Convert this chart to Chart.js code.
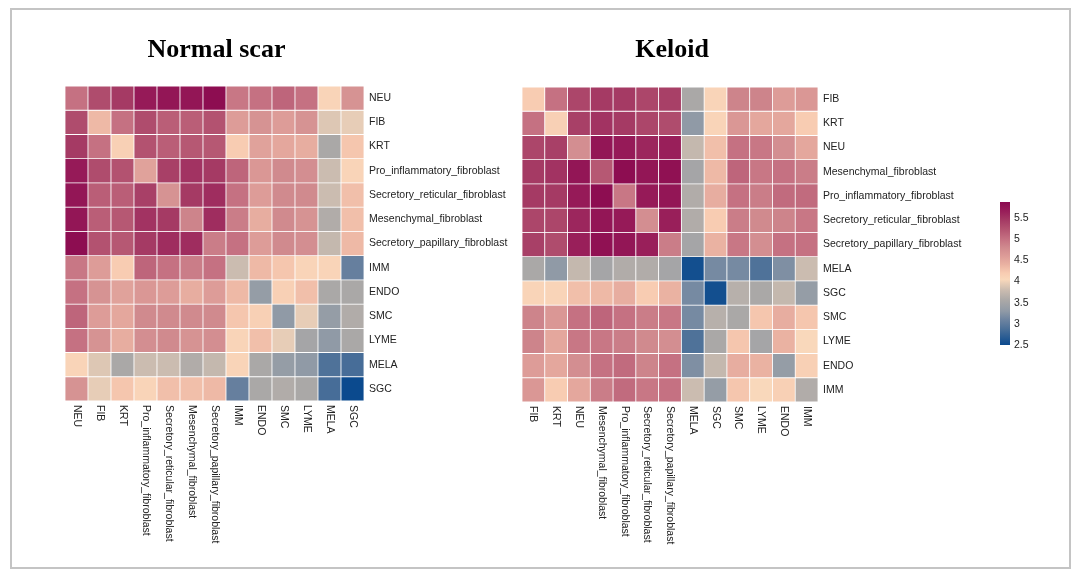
<!DOCTYPE html>
<html>
<head>
<meta charset="utf-8">
<script src="https://cdn.jsdelivr.net/npm/chart.js@4"></script>
<style>
  body { margin: 0; background: #fff; }
  #wrap { position: relative; width: 1080px; height: 578px; overflow: hidden; }
  #frame { position: absolute; left: 10px; top: 8px; width: 1057px; height: 557px; border: 2px solid #c4c4c4; }
  canvas { position: absolute; }
</style>
</head>
<body>
<div id="wrap">
  <div id="frame"></div>
  <canvas id="normal" style="left:0px;top:0px;width:540px;height:578px"></canvas>
  <canvas id="keloid" style="left:470px;top:0px;width:520px;height:578px"></canvas>
  <canvas id="bar" style="left:980px;top:190px;width:80px;height:170px"></canvas>
</div>
<script>
const normalLabels = ['NEU', 'FIB', 'KRT', 'Pro_inflammatory_fibroblast', 'Secretory_reticular_fibroblast',
  'Mesenchymal_fibroblast', 'Secretory_papillary_fibroblast', 'IMM', 'ENDO', 'SMC', 'LYME', 'MELA', 'SGC'];

const normalValues = [
  [5.0, 5.3, 5.45, 5.7, 5.75, 5.75, 5.85, 4.95, 5.0, 5.1, 5.0, 4.1, 4.7],
  [5.3, 4.35, 5.0, 5.3, 5.15, 5.15, 5.25, 4.6, 4.7, 4.6, 4.7, 3.9, 3.95],
  [5.45, 5.0, 4.15, 5.25, 5.15, 5.2, 5.2, 4.2, 4.55, 4.5, 4.45, 3.55, 4.25],
  [5.7, 5.3, 5.25, 4.55, 5.4, 5.5, 5.45, 5.1, 4.65, 4.8, 4.75, 3.8, 4.1],
  [5.75, 5.15, 5.15, 5.4, 4.7, 5.45, 5.55, 5.0, 4.6, 4.8, 4.8, 3.8, 4.3],
  [5.75, 5.15, 5.2, 5.5, 5.45, 4.85, 5.55, 4.9, 4.45, 4.8, 4.7, 3.6, 4.3],
  [5.85, 5.25, 5.2, 5.45, 5.55, 5.55, 4.9, 5.0, 4.6, 4.8, 4.75, 3.75, 4.35],
  [4.95, 4.6, 4.2, 5.1, 5.0, 4.9, 5.0, 3.8, 4.35, 4.25, 4.1, 4.1, 3.05],
  [5.0, 4.7, 4.55, 4.65, 4.6, 4.45, 4.6, 4.35, 3.35, 4.15, 4.3, 3.55, 3.55],
  [5.1, 4.6, 4.5, 4.8, 4.8, 4.8, 4.8, 4.25, 4.15, 3.3, 3.95, 3.35, 3.6],
  [5.0, 4.7, 4.45, 4.75, 4.8, 4.7, 4.75, 4.1, 4.3, 3.95, 3.5, 3.3, 3.55],
  [4.1, 3.9, 3.55, 3.8, 3.8, 3.6, 3.75, 4.1, 3.55, 3.35, 3.3, 2.9, 2.85],
  [4.7, 3.95, 4.25, 4.1, 4.3, 4.3, 4.35, 3.05, 3.55, 3.6, 3.55, 2.85, 2.5]
];

const keloidLabels = ['FIB', 'KRT', 'NEU', 'Mesenchymal_fibroblast', 'Pro_inflammatory_fibroblast',
  'Secretory_reticular_fibroblast', 'Secretory_papillary_fibroblast', 'MELA', 'SGC', 'SMC', 'LYME', 'ENDO', 'IMM'];

const keloidValues = [
  [4.2, 5.0, 5.35, 5.45, 5.45, 5.35, 5.4, 3.55, 4.1, 4.85, 4.85, 4.6, 4.65],
  [5.0, 4.15, 5.4, 5.5, 5.45, 5.35, 5.3, 3.3, 4.1, 4.65, 4.5, 4.5, 4.2],
  [5.35, 5.4, 4.75, 5.75, 5.7, 5.6, 5.65, 3.75, 4.3, 5.0, 4.95, 4.75, 4.5],
  [5.45, 5.5, 5.75, 5.2, 5.85, 5.75, 5.8, 3.5, 4.35, 5.1, 4.95, 5.0, 4.9],
  [5.45, 5.45, 5.7, 5.85, 4.95, 5.7, 5.75, 3.6, 4.45, 5.0, 4.9, 5.05, 5.05],
  [5.35, 5.35, 5.6, 5.75, 5.7, 4.75, 5.65, 3.6, 4.2, 4.9, 4.8, 4.85, 4.95],
  [5.4, 5.3, 5.65, 5.8, 5.75, 5.65, 4.9, 3.5, 4.4, 4.95, 4.75, 5.0, 5.0],
  [3.55, 3.3, 3.75, 3.5, 3.6, 3.6, 3.5, 2.55, 3.15, 3.15, 2.9, 3.2, 3.8],
  [4.1, 4.1, 4.3, 4.35, 4.45, 4.2, 4.4, 3.15, 2.55, 3.65, 3.55, 3.75, 3.35],
  [4.85, 4.65, 5.0, 5.1, 5.0, 4.9, 4.95, 3.15, 3.65, 3.55, 4.25, 4.45, 4.25],
  [4.85, 4.5, 4.95, 4.95, 4.9, 4.8, 4.75, 2.9, 3.55, 4.25, 3.5, 4.4, 4.05],
  [4.6, 4.5, 4.75, 5.0, 5.05, 4.85, 5.0, 3.2, 3.75, 4.45, 4.4, 3.35, 4.15],
  [4.65, 4.2, 4.5, 4.9, 5.05, 4.95, 5.0, 3.8, 3.35, 4.25, 4.05, 4.15, 3.6]
];

const colorMin = 2.5;
const colorMax = 5.88;
const colorTicks = [2.5, 3, 3.5, 4, 4.5, 5, 5.5];

// colour ramp
const stops = [
  [2.5, '#0b4a8e'], [2.9, '#4f7299'], [3.1, '#6e84a0'], [3.3, '#909aa6'],
  [3.55, '#aaa8a7'], [3.8, '#cbbcb0'], [4.05, '#f9d8bb'], [4.2, '#f8ccb2'],
  [4.4, '#eab2a2'], [4.6, '#dd9c98'], [4.8, '#d08a8e'], [5.0, '#c57182'],
  [5.2, '#b65873'], [5.45, '#a53a64'], [5.65, '#991f5a'], [5.88, '#8b0a50']
];

function hex(c) {
  return [parseInt(c.slice(1, 3), 16), parseInt(c.slice(3, 5), 16), parseInt(c.slice(5, 7), 16)];
}

function valueColor(v) {
  if (v <= stops[0][0]) return stops[0][1];
  for (let i = 1; i < stops.length; i++) {
    if (v <= stops[i][0]) {
      const t = (v - stops[i - 1][0]) / (stops[i][0] - stops[i - 1][0]);
      const a = hex(stops[i - 1][1]);
      const b = hex(stops[i][1]);
      const c = a.map((x, k) => Math.round(x + (b[k] - x) * t));
      return `rgb(${c[0]}, ${c[1]}, ${c[2]})`;
    }
  }
  return stops[stops.length - 1][1];
}

const labelFont = '10.5px "Liberation Sans", Arial, sans-serif';

// draws title, row labels (right) and column labels (below, reading downwards)
const heatLabels = {
  id: 'heatLabels',
  afterDraw(chart, args, opts) {
    const ctx = chart.ctx;
    const area = chart.chartArea;
    const xs = chart.scales.x;
    const ys = chart.scales.y;
    ctx.save();
    ctx.fillStyle = '#000';
    ctx.font = 'bold 26px "Liberation Serif", "Times New Roman", serif';
    ctx.textAlign = 'center';
    ctx.textBaseline = 'middle';
    ctx.fillText(opts.title, (area.left + area.right) / 2 + 2, 50);

    ctx.font = labelFont;
    ctx.fillStyle = '#222';
    ctx.textAlign = 'left';
    opts.labels.forEach((name, i) => {
      ctx.fillText(name, area.right + 5, ys.getPixelForValue(i + 0.5));
    });
    opts.labels.forEach((name, j) => {
      ctx.save();
      ctx.translate(xs.getPixelForValue(j), area.bottom + 4);
      ctx.rotate(Math.PI / 2);
      ctx.fillText(name, 0, 0);
      ctx.restore();
    });
    ctx.restore();
  }
};

function drawHeatmap(id, title, labels, values, pad) {
  const datasets = values.map((row, i) => ({
    label: labels[i],
    data: labels.map(() => 1),
    backgroundColor: row.map(valueColor),
    borderColor: 'rgba(255, 255, 255, 0.85)',
    borderWidth: 0.75,
    borderSkipped: false,
    barPercentage: 1,
    categoryPercentage: 1,
    stack: 'cells'
  }));

  new Chart(document.getElementById(id), {
    type: 'bar',
    data: { labels: labels, datasets: datasets },
    options: {
      responsive: false,
      animation: false,
      layout: { padding: pad },
      plugins: {
        legend: { display: false },
        tooltip: { enabled: false },
        heatLabels: { title: title, labels: labels }
      },
      scales: {
        x: { stacked: true, display: false },
        y: { stacked: true, display: false, min: 0, max: labels.length, reverse: true }
      }
    },
    plugins: [heatLabels]
  });
}

function sizeCanvas(id) {
  const c = document.getElementById(id);
  c.width = parseInt(c.style.width);
  c.height = parseInt(c.style.height);
}

window.onload = function() {
  ['normal', 'keloid', 'bar'].forEach(sizeCanvas);

  drawHeatmap('normal', 'Normal scar', normalLabels, normalValues,
    { left: 65, top: 86, right: 176, bottom: 177 });
  drawHeatmap('keloid', 'Keloid', keloidLabels, keloidValues,
    { left: 52, top: 87, right: 172, bottom: 176 });

  const barTicks = {
    id: 'barTicks',
    afterDraw(chart) {
      const ctx = chart.ctx;
      const ys = chart.scales.y;
      ctx.save();
      ctx.font = labelFont;
      ctx.fillStyle = '#222';
      ctx.textAlign = 'left';
      ctx.textBaseline = 'middle';
      colorTicks.forEach(v => {
        ctx.fillText(String(v), chart.chartArea.right + 4, ys.getPixelForValue(v));
      });
      ctx.restore();
    }
  };

  new Chart(document.getElementById('bar'), {
    type: 'bar',
    data: {
      labels: [''],
      datasets: [{
        data: [[colorMin, colorMax]],
        backgroundColor: function(context) {
          const area = context.chart.chartArea;
          if (!area) return '#ccc';
          const g = context.chart.ctx.createLinearGradient(0, area.bottom, 0, area.top);
          stops.forEach(s => g.addColorStop((s[0] - colorMin) / (colorMax - colorMin), s[1]));
          return g;
        },
        borderWidth: 0,
        barPercentage: 1,
        categoryPercentage: 1
      }]
    },
    options: {
      responsive: false,
      animation: false,
      layout: { padding: { left: 20, right: 50, top: 12, bottom: 15 } },
      plugins: { legend: { display: false }, tooltip: { enabled: false } },
      scales: {
        x: { display: false },
        y: { display: false, min: colorMin, max: colorMax }
      }
    },
    plugins: [barTicks]
  });
};
</script>
</body>
</html>
